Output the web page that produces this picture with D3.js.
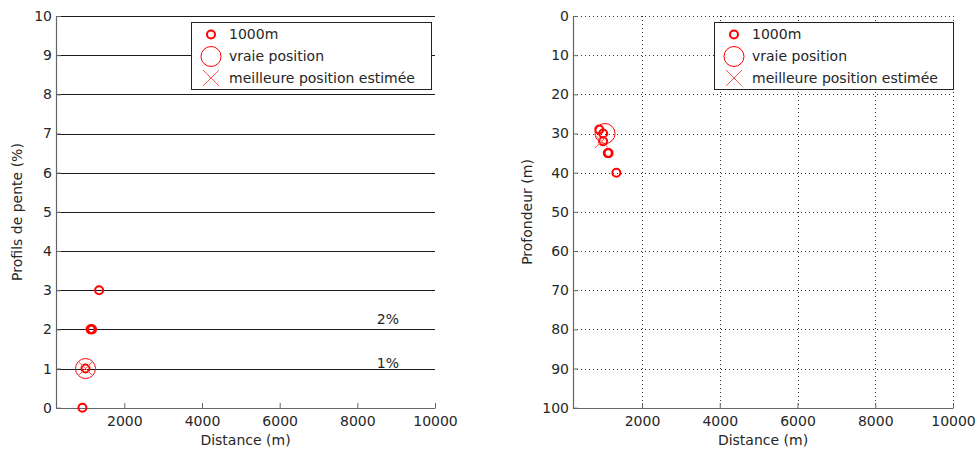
<!DOCTYPE html>
<html><head><meta charset="utf-8">
<script src="https://cdn.jsdelivr.net/npm/d3@7"></script>
<style>
body{margin:0;background:#fff;}
text{font-family:"DejaVu Sans",Verdana,sans-serif;fill:#262626;}
</style></head>
<body><svg id="c" width="977" height="450"></svg>
<script>
// ---- data ----
const xTicks = [2000, 4000, 6000, 8000, 10000];
const slopeTicks = [0,1,2,3,4,5,6,7,8,9,10];
const depthTicks = [0,10,20,30,40,50,60,70,80,90,100];
const legendLabels = ["1000m", "vraie position", "meilleure position estimée"];
// left panel: slope profiles
const slopeDist1000 = [920, 1000, 1130, 1150, 1170, 1350];
const slopeVal1000  = [0, 1, 2, 2, 2, 3];
const slopeTrueDist = [1000];
const slopeTrueVal  = [1];
const slopeBestDist = [1000];
const slopeBestVal  = [1];
const slopeLineLabels = ["1%", "2%"];
const slopeLineLevels = [1, 2];
// right panel: depth
const depthDist1000 = [900, 1000, 1000, 1120, 1140, 1340];
const depthVal1000  = [29, 30, 32, 35, 35, 40];
const depthTrueDist = [1050];
const depthTrueVal  = [30];
const depthBestDist = [960];
const depthBestVal  = [32];

const svg = d3.select("#c");
const RED = "#ff0000";
const FONT = '"DejaVu Sans",Verdana,sans-serif';

function panel(opt){
  const g = svg.append("g");
  const x = d3.scaleLinear().domain(opt.xDomain).range([opt.left, opt.right]);
  const y = d3.scaleLinear().domain(opt.yDomain).range(opt.yRange);
  // grid
  g.append("g").selectAll("line.h").data(opt.yTicks).join("line")
    .attr("x1", opt.left).attr("x2", opt.right)
    .attr("y1", d=>Math.round(y(d))+0.5).attr("y2", d=>Math.round(y(d))+0.5)
    .attr("stroke", opt.dotted ? "#333" : "#1a1a1a")
    .attr("stroke-width", 1)
    .attr("stroke-dasharray", opt.dotted ? "1,3" : null);
  if (opt.dotted) {
    g.append("g").selectAll("line.v").data(xTicks).join("line")
      .attr("y1", opt.top).attr("y2", opt.bottom)
      .attr("x1", d=>Math.round(x(d))+0.5).attr("x2", d=>Math.round(x(d))+0.5)
      .attr("stroke", "#333").attr("stroke-width", 1).attr("stroke-dasharray", "1,3");
  }
  // axes
  const xa = g.append("g").attr("transform", `translate(0,${opt.bottom})`)
    .call(d3.axisBottom(x).tickValues(xTicks).tickSize(-5).tickPadding(8).tickSizeOuter(0).tickFormat(d3.format("d")));
  const ya = g.append("g").attr("transform", `translate(${opt.left},0)`)
    .call(d3.axisLeft(y).tickValues(opt.yTicks).tickSize(-5).tickPadding(4).tickSizeOuter(0).tickFormat(d3.format("d")));
  [xa, ya].forEach(a=>{
    a.select(".domain").attr("stroke", "#666").attr("stroke-width", 1.2);
    a.selectAll(".tick line").attr("stroke", "#666");
    a.selectAll(".tick text").attr("font-size", 14).attr("fill", "#262626")
      .attr("font-family", FONT);
  });
  // axis titles
  g.append("text").attr("x", (opt.left+opt.right)/2).attr("y", 445)
    .attr("text-anchor", "middle").attr("font-size", 14).text("Distance (m)");
  g.append("text").attr("transform", `translate(${opt.ylabX},${(opt.top+opt.bottom)/2}) rotate(-90)`)
    .attr("text-anchor", "middle").attr("font-size", 14).text(opt.ylab);
  // marks
  const d1000 = opt.d1000.map((d,i)=>({x:d, y:opt.v1000[i]}));
  g.append("g").selectAll("circle").data(d1000).join("circle")
    .attr("cx", d=>x(d.x)).attr("cy", d=>y(d.y)).attr("r", 4)
    .attr("fill", "none").attr("stroke", RED).attr("stroke-width", 2);
  const dTrue = opt.dTrue.map((d,i)=>({x:d, y:opt.vTrue[i]}));
  g.append("g").selectAll("circle").data(dTrue).join("circle")
    .attr("cx", d=>x(d.x)).attr("cy", d=>y(d.y)).attr("r", 10)
    .attr("fill", "none").attr("stroke", RED).attr("stroke-width", 1);
  const dBest = opt.dBest.map((d,i)=>({x:d, y:opt.vBest[i]}));
  g.append("g").selectAll("path").data(dBest).join("path")
    .attr("d", d=>{const cx=x(d.x), cy=y(d.y), s=7;
      return `M${cx-s},${cy-s}L${cx+s},${cy+s}M${cx-s},${cy+s}L${cx+s},${cy-s}`;})
    .attr("fill", "none").attr("stroke", "#ff5555").attr("stroke-width", 1);
  // legend
  const lg = g.append("g");
  lg.append("rect").attr("x", opt.legX+0.5).attr("y", 22.5).attr("width", opt.legW).attr("height", 67)
    .attr("fill", "#fff").attr("stroke", "#222").attr("stroke-width", 1);
  const rows = [34.5, 56.5, 78];
  const mx = opt.legX + 20;
  lg.append("circle").attr("cx", mx).attr("cy", rows[0]).attr("r", 4)
    .attr("fill", "none").attr("stroke", RED).attr("stroke-width", 2);
  lg.append("circle").attr("cx", mx).attr("cy", rows[1]).attr("r", 10)
    .attr("fill", "none").attr("stroke", RED).attr("stroke-width", 1);
  lg.append("path").attr("d", `M${mx-8},${rows[2]-8}L${mx+8},${rows[2]+8}M${mx-8},${rows[2]+8}L${mx+8},${rows[2]-8}`)
    .attr("stroke", "#ff5555").attr("stroke-width", 1);
  lg.selectAll("text").data(legendLabels).join("text")
    .attr("x", opt.legX + 38).attr("y", (d,i)=>rows[i]).attr("dy", "0.35em")
    .attr("font-size", 14).text(d=>d);
  return {g, x, y};
}

const L = panel({left:56, right:435, top:16, bottom:408, xDomain:[240,10000], yDomain:[0,10], yRange:[407.7,16],
  yTicks:slopeTicks, dotted:false, ylab:"Profils de pente (%)", ylabX:22,
  d1000:slopeDist1000, v1000:slopeVal1000, dTrue:slopeTrueDist, vTrue:slopeTrueVal, dBest:slopeBestDist, vBest:slopeBestVal,
  legX:191, legW:240});
L.g.selectAll("text.lvl").data(slopeLineLevels).join("text").attr("class","lvl")
  .attr("x", L.x(8500)).attr("y", (d,i)=>L.y(d) - (i===0 ? 1 : 5))
  .attr("font-size", 14).text((d,i)=>slopeLineLabels[i]);

const R = panel({left:573, right:953, top:16, bottom:408, xDomain:[225,10000], yDomain:[0,100], yRange:[16,407.7],
  yTicks:depthTicks, dotted:true, ylab:"Profondeur (m)", ylabX:532,
  d1000:depthDist1000, v1000:depthVal1000, dTrue:depthTrueDist, vTrue:depthTrueVal, dBest:depthBestDist, vBest:depthBestVal,
  legX:714, legW:239});
</script></body></html>
